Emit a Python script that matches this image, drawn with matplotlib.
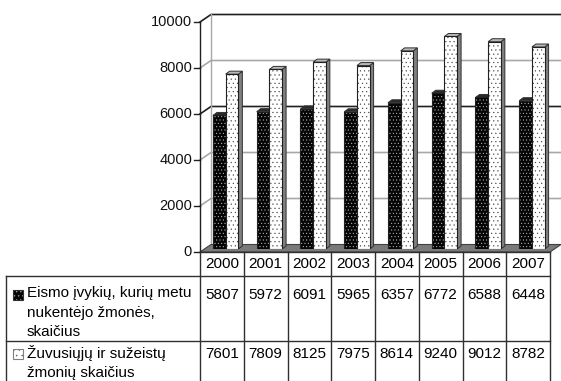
import matplotlib
matplotlib.use("Agg")
import matplotlib.pyplot as plt
from matplotlib.patches import Polygon, Rectangle

# ---- data -------------------------------------------------------------
years = ["2000", "2001", "2002", "2003", "2004", "2005", "2006", "2007"]
accidents_with_victims = [5807, 5972, 6091, 5965, 6357, 6772, 6588, 6448]
killed_and_injured = [7601, 7809, 8125, 7975, 8614, 9240, 9012, 8782]
series_labels = [
    "Eismo įvykių, kurių metu\nnukentėjo žmonės,\nskaičius",
    "Žuvusiųjų ir sužeistų\nžmonių skaičius",
]
y_ticks = [0, 2000, 4000, 6000, 8000, 10000]

plt.rcParams["font.family"] = ["Liberation Sans", "DejaVu Sans"]
plt.rcParams["hatch.linewidth"] = 0.35

W, H = 561, 381
fig = plt.figure(figsize=(W / 100, H / 100), dpi=100)
fig.patch.set_facecolor("white")


def fx(px):
    return px / W


def fy(py):
    return 1 - py / H


# axes in the plane of the bar fronts
SLOT = 43.75
ax = fig.add_axes([fx(204), fy(249), 8 * SLOT / W, 230 / H])
ax.set_xlim(-0.5, 7.5)
ax.set_ylim(0, 10000)
ax.axis("off")

PX = 1 / SLOT          # one pixel in x data units
PY = 10000 / 230       # one pixel in y data units
FRONT = (-4 * PX, -3 * PY)
BACK = (7 * PX, 4.5 * PY)
DEPTH = (4 * PX, 3 * PY)
x0, x1 = -0.5, 7.5


def shifted(pts, off):
    return [(x + off[0], y + off[1]) for x, y in pts]


# back wall gridlines with the left-wall diagonal
grid_colors = {2000: "#a8a8a8", 4000: "#a8a8a8", 6000: "#202020",
               8000: "#a8a8a8", 10000: "#202020"}
for v in y_ticks[1:]:
    fxp, fyp = x0 + FRONT[0], v + FRONT[1]
    bxl, byl = x0 + BACK[0], v + BACK[1]
    bxr = x1 + BACK[0]
    ax.plot([fxp, bxl, bxr], [fyp, byl, byl], color=grid_colors[v],
            lw=1.2, clip_on=False, zorder=1, solid_joinstyle="miter")

# left edge of the back wall
ax.plot([x0 + BACK[0]] * 2, [BACK[1], 10000 + BACK[1]], color="#a8a8a8",
        lw=1.0, clip_on=False, zorder=1)

# floor
floor = [(x0 + FRONT[0], FRONT[1]), (x1 + FRONT[0], FRONT[1]),
         (x1 + BACK[0], BACK[1]), (x0 + BACK[0], BACK[1])]
ax.add_patch(Polygon(floor, closed=True, facecolor="#7a7a7a",
                     edgecolor="#404040", lw=0.8, clip_on=False, zorder=2))

# front value axis
ax.plot([x0 + FRONT[0]] * 2, [FRONT[1], 10000 + FRONT[1]], color="#202020",
        lw=1.0, clip_on=False, zorder=3)
for v in y_ticks:
    ax.plot([x0 + FRONT[0] - 6 * PX, x0 + FRONT[0]], [v + FRONT[1]] * 2,
            color="#202020", lw=1.0, clip_on=False, zorder=3)
    ax.text(x0 + FRONT[0] - 8 * PX, v + FRONT[1], f"{v}", ha="right",
            va="center", fontsize=10.5, color="#111111", clip_on=False)

# bars with their 3-D top and side faces
width = 0.29
series = [
    (accidents_with_victims, -0.15, "#050505", "#bdbdbd", ".....",
     "#2a2a2a", "#404040"),
    (killed_and_injured, 0.14, "#ffffff", "#4a4a4a", "....",
     "#b8b8b8", "#808080"),
]
z = 4
for values, off, face, dot, hatch, top_c, side_c in series:
    xs = [i + off for i in range(len(values))]
    for x, v in zip(xs, values):
        l, r = x - width / 2, x + width / 2
        top = [(l, v), (r, v)]
        top_poly = top + shifted(top[::-1], DEPTH)
        side = [(r, 0), (r, v)]
        side_poly = side + shifted(side[::-1], DEPTH)
        ax.add_patch(Polygon(side_poly, closed=True, facecolor=side_c,
                             edgecolor="#303030", lw=0.7, zorder=z))
        ax.add_patch(Polygon(top_poly, closed=True, facecolor=top_c,
                             edgecolor="#303030", lw=0.7, zorder=z))
    ax.bar(xs, values, width=width, color=face, edgecolor=dot, hatch=hatch,
           lw=0, zorder=z + 0.1)
    ax.bar(xs, values, width=width, fill=False, edgecolor="#202020",
           lw=0.8, zorder=z + 0.2)
    z += 1

# ---- data table ---------------------------------------------------------
line_c = "#303030"
col_left, n = 200, len(years)
col_right = col_left + n * SLOT
row_top, row_hdr, row_mid, row_bot = 252, 276, 341, 381


def hline(y, xa, xb):
    fig.add_artist(plt.Line2D([fx(xa), fx(xb)], [fy(y), fy(y)],
                              color=line_c, lw=1.0))


def vline(x, ya, yb):
    fig.add_artist(plt.Line2D([fx(x), fx(x)], [fy(ya), fy(yb)],
                              color=line_c, lw=1.0))


hline(row_top, col_left, col_right)
hline(row_hdr, 6, col_right)
hline(row_mid, 6, col_right)
vline(6, row_hdr, row_bot + 2)
for i in range(n + 1):
    vline(col_left + i * SLOT, row_top, row_bot + 2)

row_label_y = [295, 354]
for i, yr in enumerate(years):
    cx = col_left + (i + 0.5) * SLOT
    fig.text(fx(cx), fy(264.5), yr, ha="center", va="center", fontsize=11)
    fig.text(fx(cx), fy(row_label_y[0]), f"{accidents_with_victims[i]}",
             ha="center", va="center", fontsize=11)
    fig.text(fx(cx), fy(row_label_y[1]), f"{killed_and_injured[i]}",
             ha="center", va="center", fontsize=11)

icon_styles = [("#050505", "#bdbdbd", "....", "#303030"),
               ("#ffffff", "#606060", "...", "#808080")]
for label, ly, (face, dot, hatch, edge) in zip(series_labels, row_label_y,
                                                icon_styles):
    fig.add_artist(Rectangle((fx(13), fy(ly + 5)), 10 / W, 10 / H,
                             transform=fig.transFigure, facecolor=face,
                             edgecolor=dot, hatch=hatch, lw=0))
    fig.add_artist(Rectangle((fx(13), fy(ly + 5)), 10 / W, 10 / H,
                             transform=fig.transFigure, fill=False,
                             edgecolor=edge, lw=0.8))
    fig.text(fx(27), fy(ly - 9), label, ha="left", va="top", fontsize=11,
             linespacing=1.5)

fig.savefig("out.png", dpi=100, facecolor="white")
